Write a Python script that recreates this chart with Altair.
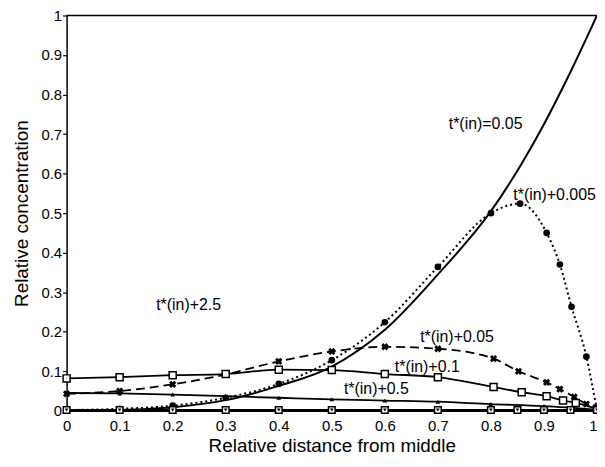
import altair as alt
import pandas as pd

# ---- data ----
X_TICKS = [0, 0.1, 0.2, 0.3, 0.4, 0.5, 0.6, 0.7, 0.8, 0.9, 1]
Y_TICKS = [0, 0.1, 0.2, 0.3, 0.4, 0.5, 0.6, 0.7, 0.8, 0.9, 1]

# t*(in)=0.05  (solid, no markers)
s1_x = [0, 0.1, 0.2, 0.3, 0.4, 0.5, 0.6, 0.7, 0.8, 0.9, 0.95, 1.0]
s1_y = [0, 0.002, 0.009, 0.027, 0.063, 0.112, 0.205, 0.345, 0.505, 0.725, 0.857, 1.0]

# t*(in)+0.005 (dotted, filled dots)
s2_x = [0, 0.1, 0.2, 0.3, 0.4, 0.5, 0.6, 0.7, 0.8, 0.855, 0.905, 0.93, 0.952, 0.98, 1.0]
s2_y = [0.002, 0.005, 0.013, 0.033, 0.068, 0.128, 0.224, 0.364, 0.5, 0.524, 0.45, 0.37, 0.263, 0.137, 0.0]

# t*(in)+0.05 (dashed, x markers)
s3_x = [0, 0.1, 0.2, 0.3, 0.4, 0.5, 0.6, 0.7, 0.805, 0.852, 0.905, 0.93, 0.957, 0.98, 1.0]
s3_y = [0.043, 0.05, 0.067, 0.092, 0.125, 0.15, 0.162, 0.157, 0.132, 0.1, 0.072, 0.055, 0.035, 0.017, 0.004]

# t*(in)+0.1 (solid, open squares)
s4_x = [0, 0.1, 0.2, 0.3, 0.4, 0.5, 0.6, 0.7, 0.805, 0.858, 0.905, 0.936, 0.96, 1.0]
s4_y = [0.082, 0.085, 0.09, 0.093, 0.104, 0.103, 0.093, 0.085, 0.06, 0.047, 0.037, 0.026, 0.02, 0.005]

# t*(in)+0.5 (solid, triangles)
s5_x = [0, 0.1, 0.2, 0.3, 0.4, 0.5, 0.6, 0.7, 0.8, 0.9, 1.0]
s5_y = [0.045, 0.044, 0.041, 0.037, 0.033, 0.029, 0.026, 0.023, 0.017, 0.012, 0.003]

# t*(in)+2.5 (solid, boxed markers at zero)
s6_x = [0, 0.1, 0.2, 0.3, 0.4, 0.5, 0.6, 0.7, 0.8, 0.85, 0.9, 0.95, 1.0]
s6_y = [0.002, 0.002, 0.002, 0.002, 0.002, 0.002, 0.002, 0.002, 0.002, 0.002, 0.002, 0.002, 0.002]

label_text = ["t*(in)=0.05", "t*(in)+0.005", "t*(in)+2.5", "t*(in)+0.05", "t*(in)+0.1", "t*(in)+0.5"]
label_x = [0.79, 0.92, 0.23, 0.736, 0.68, 0.584]
label_y = [0.725, 0.546, 0.267, 0.187, 0.11, 0.055]

FONT = "Liberation Sans"

xscale = alt.Scale(domain=[0, 1], nice=False, zero=False)
yscale = alt.Scale(domain=[0, 1], nice=False, zero=False)
xaxis = alt.Axis(values=X_TICKS, format="~g", title="Relative distance from middle",
                 grid=False, tickSize=0, labelPadding=8, titlePadding=3,
                 domainColor="black", domainWidth=1.5, labelColor="black",
                 labelFontSize=15, titleFontSize=19, titleFontWeight="normal",
                 labelFont=FONT, titleFont=FONT, titleColor="black", labelFlush=False,
                 labelAlign={"condition": {"test": "datum.value >= 1", "value": "right"},
                             "value": "center"})
yaxis = alt.Axis(values=Y_TICKS, format="~g", title="Relative concentration",
                 grid=False, tickSize=4, tickColor="black", tickWidth=1.2, labelPadding=1,
                 titlePadding=10, domainColor="black", domainWidth=1.5, labelColor="black",
                 labelFontSize=15, titleFontSize=19, titleFontWeight="normal",
                 labelFont=FONT, titleFont=FONT, titleColor="black", labelFlush=False)

X = alt.X("x:Q", scale=xscale, axis=xaxis)
Y = alt.Y("y:Q", scale=yscale, axis=yaxis)


def df(xs, ys):
    return pd.DataFrame({"x": xs, "y": ys})


def line(xs, ys, dash=None, width=1.8):
    kw = dict(color="black", strokeWidth=width, interpolate="monotone")
    if dash:
        kw["strokeDash"] = dash
    return alt.Chart(df(xs, ys)).mark_line(**kw).encode(x=X, y=Y)


def points(xs, ys, **kw):
    return alt.Chart(df(xs, ys)).mark_point(color="black", **kw).encode(x=X, y=Y)


layers = [
    line(s1_x, s1_y, width=2),
    line(s2_x, s2_y, dash=[2, 3], width=2),
    points(s2_x[1:-1], s2_y[1:-1], shape="circle", filled=True, size=45, opacity=1),
    line(s3_x, s3_y, dash=[9, 5], width=1.8),
    points(s3_x, s3_y, shape="cross", angle=45, filled=True, size=55, opacity=1),
    line(s4_x, s4_y, width=1.8),
    points(s4_x, s4_y, shape="square", filled=True, fill="white", stroke="black",
           strokeWidth=1.5, size=50, opacity=1),
    line(s5_x, s5_y, width=1.8),
    points(s5_x, s5_y, shape="triangle-up", filled=True, size=22, opacity=1),
    line(s6_x, s6_y, width=2.2),
    points(s6_x, s6_y, shape="square", filled=True, fill="white", stroke="black",
           strokeWidth=1.5, size=45, opacity=1),
    points(s6_x, s6_y, shape="triangle-down", filled=True, size=14, opacity=1),
    alt.Chart(pd.DataFrame({"y": [1]})).mark_rule(color="black", strokeWidth=1.5).encode(y=Y),
    alt.Chart(pd.DataFrame({"x": label_x, "y": label_y, "t": label_text})).mark_text(
        font=FONT, fontSize=16, color="black", align="center", baseline="middle"
    ).encode(x=X, y=Y, text="t:N"),
]

chart = alt.layer(*layers).properties(
    width=534, height=398,
    padding={"left": 59, "top": 6, "right": 0, "bottom": 50},
    autosize=alt.AutoSizeParams(type="none"),
    background="white",
).configure_view(stroke=None)

chart.save("out.html", embed_options={"renderer": "svg", "actions": False})
